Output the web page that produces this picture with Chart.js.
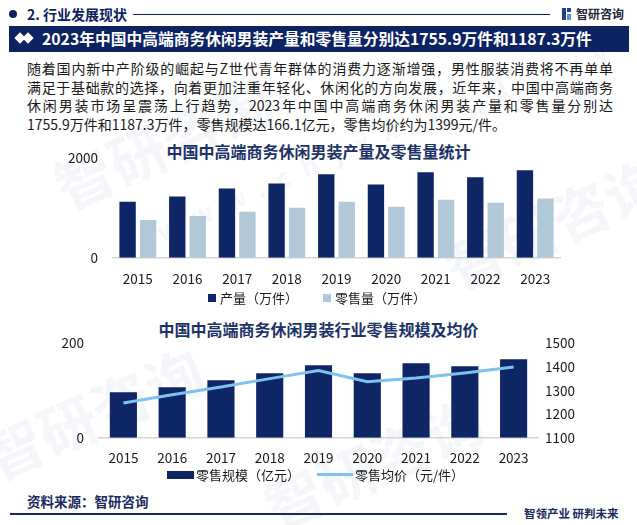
<!DOCTYPE html>
<html>
<head>
<meta charset="utf-8">
<script src="https://cdn.jsdelivr.net/npm/chart.js@4.4.1/dist/chart.umd.min.js"></script>
<style>
  html, body { margin: 0; padding: 0; background: #fff; }
  body { width: 637px; height: 525px; position: relative; overflow: hidden;
         font-family: "Noto Sans CJK SC", "Noto Sans", sans-serif; color: #1a1a1a; }
  .abs { position: absolute; white-space: nowrap; }
  .wm { position: absolute; color: rgba(170, 188, 212, 0.13); font-weight: bold; white-space: nowrap;
        transform-origin: left top; pointer-events: none; }
  .para div { height: 18.7px; line-height: 18.7px; font-size: 14px; text-align: justify; text-align-last: justify; }
  .para div.last { text-align-last: left; }
  .ctitle { position: absolute; left: 0; width: 637px; text-align: center; font-size: 16px; font-weight: bold;
            color: #1d3267; line-height: 20px; }
  .leg { position: absolute; font-size: 13px; line-height: 16px; color: #1a1a1a; white-space: nowrap; }
  canvas { position: absolute; }
</style>
</head>
<body>
<!-- watermarks -->
<div class="wm" style="left:40px;top:150px;font-size:58px;transform:rotate(-24deg);">智研咨询</div>
<div class="wm" style="left:150px;top:215px;font-size:26px;letter-spacing:14px;transform:rotate(-24deg);">www.chyxx.com</div>
<div class="wm" style="left:430px;top:230px;font-size:58px;transform:rotate(-24deg);">智研咨询</div>
<div class="wm" style="left:-30px;top:420px;font-size:58px;transform:rotate(-24deg);">智研咨询</div>
<div class="wm" style="left:250px;top:470px;font-size:58px;transform:rotate(-24deg);">智研咨询</div>
<div class="wm" style="left:430px;top:110px;font-size:22px;letter-spacing:14px;transform:rotate(-24deg);">www.chyxx.com</div>

<!-- section header -->
<div class="abs" style="left:9px;top:10px;width:8px;height:8px;border-radius:50%;background:#0d2261;"></div>
<div class="abs" style="left:27px;top:4px;font-size:14px;line-height:20px;font-weight:bold;color:#0d2261;">2. 行业发展现状</div>
<div class="abs" style="left:133px;top:14px;width:417px;height:1px;background:#0d2261;"></div>
<div class="abs" style="left:562px;top:8px;width:4px;height:12px;background:#1f3f8f;"></div>
<div class="abs" style="left:567px;top:8px;width:4px;height:4px;background:#1f3f8f;"></div>
<div class="abs" style="left:567px;top:14px;width:4px;height:6px;background:#5b8fd6;"></div>
<div class="abs" style="left:576px;top:6px;font-size:12px;line-height:16px;font-weight:bold;color:#22283a;">智研咨询</div>

<!-- banner -->
<div class="abs" style="left:9px;top:26px;width:620px;height:26px;background:#0d2261;"></div>
<div class="abs" style="left:16px;top:34px;width:8px;height:8px;background:#fff;transform:rotate(45deg);"></div>
<div class="abs" style="left:24px;top:34px;width:8px;height:8px;background:#fff;transform:rotate(45deg);"></div>
<div class="abs" style="left:42px;top:28px;font-size:15.75px;line-height:22px;font-weight:bold;color:#fff;">2023年中国中高端商务休闲男装产量和零售量分别达1755.9万件和1187.3万件</div>

<!-- paragraph -->
<div class="abs para" style="left:27px;top:59px;width:586px;">
  <div>随着国内新中产阶级的崛起与Z世代青年群体的消费力逐渐增强，男性服装消费将不再单单</div>
  <div>满足于基础款的选择，向着更加注重年轻化、休闲化的方向发展，近年来，中国中高端商务</div>
  <div>休闲男装市场呈震荡上行趋势，2023年中国中高端商务休闲男装产量和零售量分别达</div>
  <div class="last">1755.9万件和1187.3万件，零售规模达166.1亿元，零售均价约为1399元/件。</div>
</div>

<!-- chart 1 -->
<div class="ctitle" style="top:141px;">中国中高端商务休闲男装产量及零售量统计</div>
<canvas id="c1" width="520" height="157" style="left:60px;top:135px;width:520px;height:157px;"></canvas>
<div class="leg" style="left:208px;top:290px;"><span style="display:inline-block;width:8px;height:8px;background:#0e2566;vertical-align:1px;margin-right:4px;"></span>产量（万件）</div>
<div class="leg" style="left:323px;top:290px;"><span style="display:inline-block;width:8px;height:8px;background:#b0c8d8;vertical-align:1px;margin-right:4px;"></span>零售量（万件）</div>

<!-- chart 2 -->
<div class="ctitle" style="top:319px;">中国中高端商务休闲男装行业零售规模及均价</div>
<canvas id="c2" width="540" height="150" style="left:50px;top:320px;width:540px;height:150px;"></canvas>
<div class="leg" style="left:167px;top:467px;"><span style="display:inline-block;width:27px;height:8px;background:#0e2566;vertical-align:1px;margin-right:2px;"></span>零售规模（亿元）</div>
<div class="leg" style="left:317px;top:467px;"><span style="display:inline-block;width:36px;height:3px;background:#7ec2ef;vertical-align:4px;margin-right:2px;"></span>零售均价（元/件）</div>

<!-- footer -->
<div class="abs" style="left:27px;top:492px;font-size:13.5px;line-height:18px;font-weight:bold;color:#1b2a5e;">资料来源：智研咨询</div>
<div class="abs" style="left:10px;top:513px;width:497px;height:1.5px;background:#1b2a5e;"></div>
<div class="abs" style="left:524px;top:505px;font-size:11.5px;line-height:16px;font-weight:bold;color:#1b2a5e;">智领产业 研判未来</div>

<script>
var years = ['2015', '2016', '2017', '2018', '2019', '2020', '2021', '2022', '2023'];
var output = [1125, 1228, 1390, 1492, 1675, 1471, 1715, 1614, 1755.9];      // 产量（万件）
var retailQty = [760, 841, 922, 1003, 1126, 1024, 1166, 1105, 1187.3];     // 零售量（万件）
var retailSize = [96.1, 106.7, 121.6, 136.4, 153.4, 136.4, 157.6, 151.3, 166.1]; // 零售规模（亿元）
var avgPrice = [1247, 1282, 1315, 1350, 1384, 1337, 1353, 1374, 1399];    // 零售均价（元/件）

var NAVY = '#0e2566';
var LIGHT = '#b0c8d8';
var LINE = '#7ec2ef';
var tickFont = { family: '"Noto Sans CJK SC", "Noto Sans", sans-serif', size: 13.5 };

function plain(v) { return String(v); }

Chart.defaults.animation = false;
Chart.defaults.color = '#1a1a1a';

new Chart(document.getElementById('c1'), {
    type: 'bar',
    data: {
        labels: years,
        datasets: [
            { label: '产量（万件）', data: output, backgroundColor: NAVY },
            { label: '零售量（万件）', data: retailQty, backgroundColor: LIGHT }
        ]
    },
    options: {
        responsive: false,
        categoryPercentage: 0.824,
        barPercentage: 0.8,
        layout: { padding: { top: 8, right: 20, left: 0, bottom: 0 } },
        plugins: { legend: { display: false }, tooltip: { enabled: false } },
        scales: {
            x: {
                grid: { display: false },
                border: { display: true, color: '#d4d4d4', width: 1.5 },
                ticks: { font: tickFont, padding: 5, color: '#1a1a1a' }
            },
            y: {
                min: 0, max: 2000,
                grid: { display: false, drawTicks: false },
                border: { display: false },
                ticks: { stepSize: 2000, font: tickFont, padding: 15, color: '#1a1a1a', callback: plain },
                afterFit: function (s) { s.width = 53; }
            }
        }
    }
});

new Chart(document.getElementById('c2'), {
    type: 'bar',
    data: {
        labels: years,
        datasets: [
            { type: 'line', label: '零售均价（元/件）', data: avgPrice, yAxisID: 'y2',
              borderColor: LINE, borderWidth: 3, pointRadius: 0, tension: 0, order: 0 },
            { label: '零售规模（亿元）', data: retailSize, backgroundColor: NAVY, yAxisID: 'y',
              categoryPercentage: 1, barPercentage: 0.556, order: 1 }
        ]
    },
    options: {
        responsive: false,
        layout: { padding: { top: 8, right: 0, left: 0, bottom: 0 } },
        plugins: { legend: { display: false }, tooltip: { enabled: false } },
        scales: {
            x: {
                grid: { display: false },
                border: { display: true, color: '#d4d4d4', width: 1.5 },
                ticks: { font: tickFont, padding: 4, color: '#1a1a1a' }
            },
            y: {
                position: 'left',
                min: 0, max: 200,
                grid: { display: false, drawTicks: false },
                border: { display: false },
                ticks: { stepSize: 200, font: tickFont, padding: 15, color: '#1a1a1a', callback: plain },
                afterFit: function (s) { s.width = 49; }
            },
            y2: {
                position: 'right',
                min: 1100, max: 1500,
                grid: { display: false, drawTicks: false },
                border: { display: false },
                ticks: { stepSize: 100, font: tickFont, padding: 7, color: '#1a1a1a', autoSkip: false, callback: plain },
                afterFit: function (s) { s.width = 52; }
            }
        }
    }
});
</script>
</body>
</html>
